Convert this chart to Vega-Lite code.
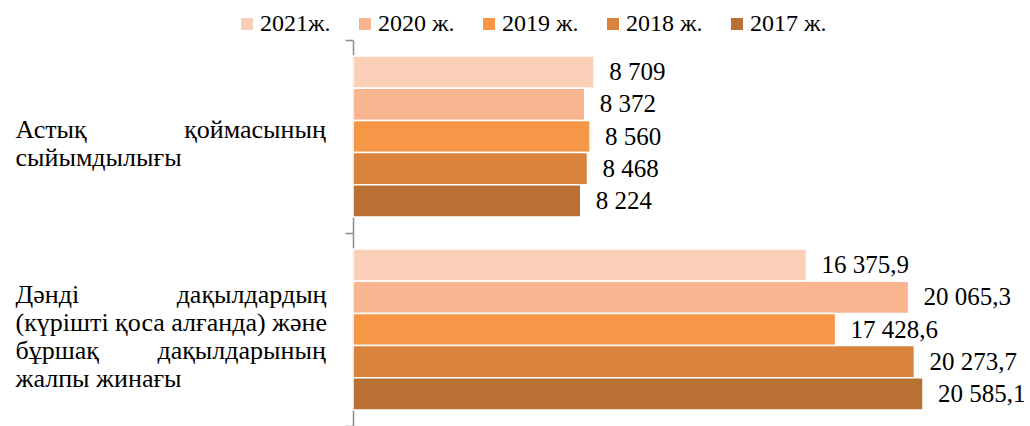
{
  "$schema": "https://vega.github.io/schema/vega-lite/v6.json",
  "autosize": "none",
  "width": 677,
  "height": 386,
  "padding": {"left": 353, "top": 40, "right": 0, "bottom": 0},
  "background": "white",
  "config": {
    "view": {"stroke": null},
    "locale": {
      "number": {"decimal": ",", "thousands": "\u00a0", "grouping": [3], "currency": ["", ""]}
    }
  },
  "data": {
    "values": [
      {"category": "A", "year": "2021ж.", "value": 8709},
      {"category": "A", "year": "2020 ж.", "value": 8372},
      {"category": "A", "year": "2019 ж.", "value": 8560},
      {"category": "A", "year": "2018 ж.", "value": 8468},
      {"category": "A", "year": "2017 ж.", "value": 8224},
      {"category": "B", "year": "2021ж.", "value": 16375.9},
      {"category": "B", "year": "2020 ж.", "value": 20065.3},
      {"category": "B", "year": "2019 ж.", "value": 17428.6},
      {"category": "B", "year": "2018 ж.", "value": 20273.7},
      {"category": "B", "year": "2017 ж.", "value": 20585.1}
    ]
  },
  "encoding": {
    "y": {
      "field": "category",
      "type": "nominal",
      "sort": ["A", "B"],
      "scale": {"paddingInner": 0, "paddingOuter": 0},
      "axis": {
        "title": null,
        "tickBand": "extent",
        "domainColor": "#8c8c8c",
        "domainWidth": 1.5,
        "tickColor": "#8c8c8c",
        "tickWidth": 1.5,
        "tickSize": 8,
        "labelAlign": "left",
        "labelBaseline": "middle",
        "labelPadding": 330,
        "labelOffset": -35,
        "labelFont": "Liberation Serif",
        "labelFontSize": 26,
        "labelLineHeight": 28,
        "labelColor": "#000000",
        "labelLimit": 0,
        "labelOverlap": false,
        "labelBound": false,
        "labelExpr": "datum.value == 'A' ? ['', 'Астық\u00a0\u00a0\u00a0\u00a0\u00a0\u00a0\u00a0\u00a0\u00a0\u00a0\u00a0\u00a0\u00a0\u00a0\u00a0қоймасының', 'сыйымдылығы'] : datum.value == 'B' ? ['Дәнді\u00a0\u00a0\u00a0\u00a0\u00a0\u00a0\u00a0\u00a0\u00a0\u00a0\u00a0\u00a0\u00a0\u00a0\u00a0дақылдардың', '(күрішті қоса алғанда) және', 'бұршақ\u00a0\u00a0\u00a0\u00a0\u00a0\u00a0\u00a0\u00a0\u00a0дақылдарының', 'жалпы жинағы'] : ''"
      }
    },
    "yOffset": {
      "field": "year",
      "type": "nominal",
      "sort": ["2021ж.", "2020 ж.", "2019 ж.", "2018 ж.", "2017 ж."],
      "scale": {"paddingInner": 0, "paddingOuter": 0.5}
    },
    "x": {
      "field": "value",
      "type": "quantitative",
      "scale": {"domain": [0, 24449], "nice": false},
      "axis": null
    }
  },
  "layer": [
    {
      "mark": {"type": "bar", "stroke": "white", "strokeWidth": 1.5},
      "encoding": {
        "color": {
          "field": "year",
          "type": "nominal",
          "sort": ["2021ж.", "2020 ж.", "2019 ж.", "2018 ж.", "2017 ж."],
          "scale": {
            "domain": ["2021ж.", "2020 ж.", "2019 ж.", "2018 ж.", "2017 ж."],
            "range": ["#fbcfb8", "#f9b58f", "#f79646", "#da833d", "#b87033"]
          },
          "legend": {
            "title": null,
            "orient": "none",
            "legendX": -118,
            "legendY": -28,
            "direction": "horizontal",
            "symbolType": "square",
            "symbolSize": 144,
            "symbolStrokeWidth": 0,
            "labelFont": "Liberation Serif",
            "labelFontSize": 24,
            "labelColor": "#000000",
            "labelOffset": 1,
            "columnPadding": 22,
            "labelLimit": 0
          }
        }
      }
    },
    {
      "mark": {
        "type": "text",
        "align": "left",
        "baseline": "middle",
        "dx": 15,
        "font": "Liberation Serif",
        "fontSize": 25,
        "color": "#000000"
      },
      "encoding": {
        "text": {"field": "value", "type": "quantitative", "format": ",~f"}
      }
    }
  ]
}
